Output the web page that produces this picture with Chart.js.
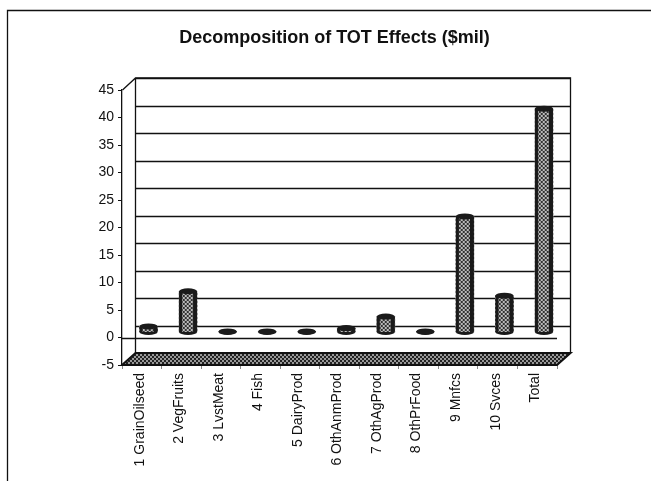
<!DOCTYPE html>
<html>
<head>
<meta charset="utf-8">
<title>Decomposition of TOT Effects</title>
<script src="https://cdn.jsdelivr.net/npm/chart.js@4/dist/chart.umd.min.js"></script>
<style>
  html, body { margin: 0; padding: 0; background: #fff; }
  canvas { display: block; }
</style>
</head>
<body>
<canvas id="chart" width="651" height="481"></canvas>
<script>
const chartTitle = 'Decomposition of TOT Effects ($mil)';
const categories = ['1 GrainOilseed', '2 VegFruits', '3 LvstMeat', '4 Fish', '5 DairyProd',
    '6 OthAnmProd', '7 OthAgProd', '8 OthPrFood', '9 Mnfcs', '10 Svces', 'Total'];
const effects = [1.1, 7.5, 0.2, 0.2, 0.2, 0.8, 2.9, 0.2, 21.1, 6.7, 40.7];
const tickValues = [-5, 0, 5, 10, 15, 20, 25, 30, 35, 40, 45];

// fake 3D depth of the Excel plot box, in px
const DEPTH_X = 13.5;
const DEPTH_Y = 12;

// speckled grey, like the scanned halftone
function speckle(dark, light, cell) {
    const c = document.createElement('canvas');
    c.width = c.height = cell * 4;
    const g = c.getContext('2d');
    g.fillStyle = light;
    g.fillRect(0, 0, c.width, c.height);
    g.fillStyle = dark;
    [[0, 0], [2, 0], [1, 1], [3, 1], [0, 2], [2, 2], [1, 3], [3, 3]].forEach(p => {
        g.fillRect(p[0] * cell, p[1] * cell, cell, cell);
    });
    return g.createPattern(c, 'repeat');
}

const wallPlugin = {
    id: 'wall',
    beforeDatasetsDraw(chart) {
        const { ctx, chartArea: a, scales: { y } } = chart;
        const backLeft = a.left + DEPTH_X;
        const backRight = a.right + DEPTH_X;
        ctx.save();
        ctx.strokeStyle = '#111';
        ctx.lineWidth = 1.3;

        // gridlines on the back wall
        tickValues.forEach(v => {
            if (v === -5) return;
            const py = Math.round(y.getPixelForValue(v)) - DEPTH_Y + 0.5;
            ctx.beginPath();
            ctx.moveTo(backLeft, py);
            ctx.lineTo(backRight, py);
            ctx.stroke();
        });

        // box outline
        const top = y.getPixelForValue(45);
        const bottom = y.getPixelForValue(-5);
        ctx.beginPath();
        ctx.moveTo(a.left + 0.5, top);
        ctx.lineTo(backLeft, top - DEPTH_Y);
        ctx.lineTo(backRight, top - DEPTH_Y);
        ctx.lineTo(backRight, bottom - DEPTH_Y);
        ctx.moveTo(backLeft, top - DEPTH_Y);
        ctx.lineTo(backLeft, bottom - DEPTH_Y);
        ctx.stroke();

        // floor
        ctx.beginPath();
        ctx.moveTo(a.left, bottom);
        ctx.lineTo(backLeft, bottom - DEPTH_Y);
        ctx.lineTo(backRight, bottom - DEPTH_Y);
        ctx.lineTo(a.right, bottom);
        ctx.closePath();
        ctx.fillStyle = speckle('#222', '#999', 2);
        ctx.fill();
        ctx.lineWidth = 2;
        ctx.stroke();
        ctx.lineWidth = 1.3;

        // zero line along the front
        const zero = Math.round(y.getPixelForValue(0)) + 0.5;
        ctx.beginPath();
        ctx.moveTo(a.left, zero);
        ctx.lineTo(a.right, zero);
        ctx.stroke();
        ctx.restore();

        // bars stand half way into the box
        ctx.save();
        ctx.translate(DEPTH_X / 2, -5);
    },
    afterDatasetsDraw(chart) {
        const { ctx } = chart;
        chart.getDatasetMeta(0).data.forEach(bar => {
            const rx = bar.width / 2;
            // shaded sides and round cap of the cylinder
            ctx.fillStyle = '#1a1a1a';
            ctx.fillRect(bar.x + rx - 4, bar.y, 4, bar.base - bar.y);
            ctx.fillRect(bar.x - rx, bar.y, 3, bar.base - bar.y);
            ctx.beginPath();
            ctx.ellipse(bar.x, bar.y, rx, 3, 0, 0, Math.PI * 2);
            ctx.fill();
            ctx.beginPath();
            ctx.ellipse(bar.x, bar.base, rx, 3, 0, 0, Math.PI);
            ctx.fill();
        });
        ctx.restore();
    }
};

const frameLines = {
    id: 'frameLines',
    afterDraw(chart) {
        const { ctx, width, height } = chart;
        ctx.save();
        ctx.strokeStyle = '#111';
        ctx.lineWidth = 1.3;
        ctx.beginPath();
        ctx.moveTo(7.5, height);
        ctx.lineTo(7.5, 10.5);
        ctx.lineTo(width, 10.5);
        ctx.stroke();
        ctx.restore();
    }
};

new Chart(document.getElementById('chart'), {
    type: 'bar',
    data: {
        labels: categories,
        datasets: [{
            data: effects,
            backgroundColor: speckle('#333', '#bbb', 2),
            barThickness: 18
        }]
    },
    plugins: [wallPlugin, frameLines],
    options: {
        responsive: false,
        animation: false,
        layout: { padding: { left: 18 } },
        plugins: {
            legend: { display: false },
            tooltip: { enabled: false },
            title: {
                display: true,
                text: chartTitle,
                color: '#111',
                font: { family: 'Liberation Sans', size: 18, weight: 'bold', lineHeight: 1.2 },
                padding: { top: 27, bottom: 41.4 }
            }
        },
        scales: {
            x: {
                afterFit: scale => { scale.height = 116; },
                grid: { drawOnChartArea: false, drawTicks: true, tickLength: 4, color: '#888' },
                border: { display: false },
                ticks: {
                    autoSkip: false,
                    minRotation: 90,
                    maxRotation: 90,
                    labelOffset: -2,
                    padding: 4,
                    color: '#111',
                    font: { family: 'Liberation Sans', size: 14 }
                }
            },
            y: {
                min: -5,
                max: 45,
                afterFit: scale => { scale.width = 104; },
                afterBuildTicks: scale => { scale.ticks = tickValues.map(v => ({ value: v })); },
                grid: { drawOnChartArea: false, drawTicks: true, tickLength: 4, color: '#111' },
                border: { display: true, color: '#111', width: 1.3 },
                ticks: {
                    padding: 4,
                    color: '#111',
                    font: { family: 'Liberation Sans', size: 14 }
                }
            },
            // empty axis, only keeps the room right of the plot box
            spacer: {
                position: 'right',
                afterFit: scale => { scale.width = 94; },
                grid: { display: false },
                border: { display: false },
                ticks: { display: false }
            }
        }
    }
});
</script>
</body>
</html>
